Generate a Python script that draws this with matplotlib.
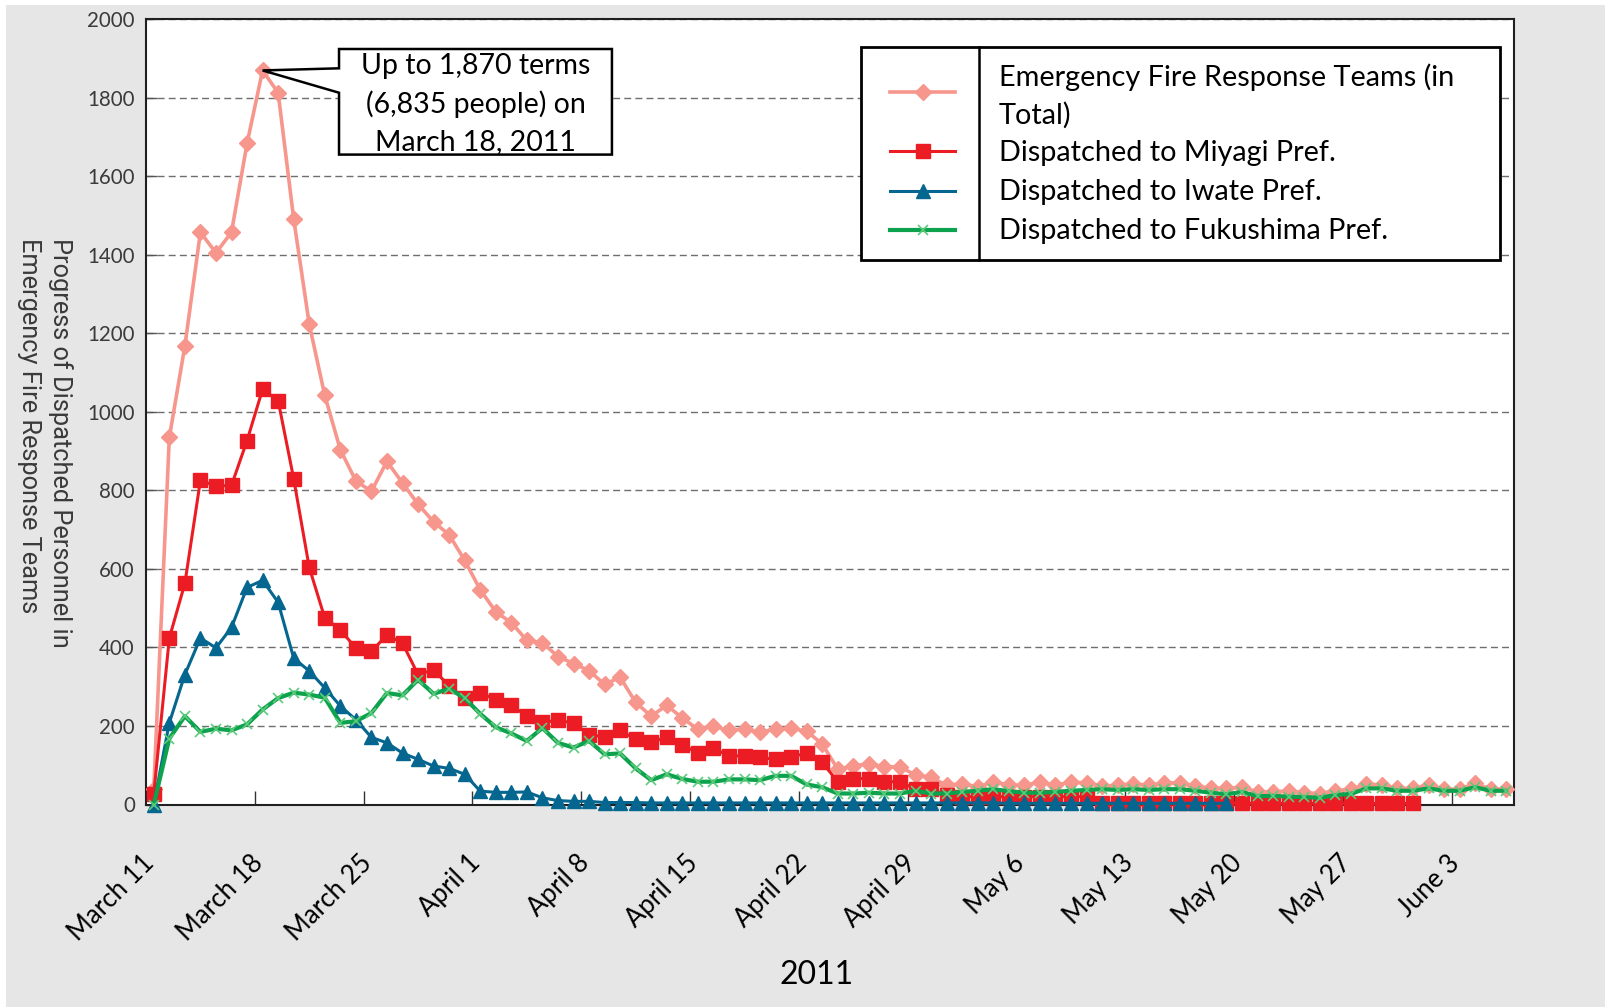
import matplotlib
matplotlib.use('Agg')
import matplotlib.pyplot as plt
from matplotlib import font_manager
from matplotlib.lines import Line2D
from matplotlib.patches import Polygon, Rectangle
import matplotlib.transforms as mtransforms
import numpy as np

plt.rcParams['font.family'] = ['Lato', 'DejaVu Sans']

# ---------------- data (daily, index 0 = March 11, 2011) ----------------
total = [40, 935, 1168, 1458, 1405, 1458, 1684, 1870, 1813, 1492,
         1224, 1042, 904, 824, 798, 874, 819, 765, 720, 687,
         622, 547, 491, 463, 418, 412, 377, 359, 341, 306,
         324, 260, 225, 253, 220, 192, 199, 189, 192, 184,
         192, 194, 187, 154, 90, 98, 104, 96, 96, 75,
         69, 49, 53, 45, 57, 50, 49, 57, 49, 57,
         55, 47, 49, 53, 49, 55, 55, 47, 41, 41,
         44, 32, 32, 35, 30, 28, 35, 39, 52, 50,
         41, 41, 50, 39, 39, 54, 39, 39]
miyagi = [27, 424, 563, 826, 811, 813, 927, 1058, 1029, 830,
          604, 475, 445, 398, 390, 432, 411, 331, 343, 302,
          271, 285, 267, 253, 225, 210, 214, 208, 178, 172,
          189, 166, 158, 172, 151, 132, 143, 124, 124, 120,
          115, 120, 132, 107, 58, 66, 66, 58, 58, 39,
          39, 24, 20, 20, 20, 20, 20, 20, 20, 20,
          20, 4, 4, 4, 4, 4, 3, 3, 3, 3,
          3, 3, 3, 3, 3, 3, 3, 3, 3, 3,
          3, 3]
iwate = [0, 208, 331, 424, 399, 451, 553, 571, 515, 373,
         340, 297, 251, 216, 171, 157, 131, 115, 98, 92,
         77, 34, 31, 31, 32, 17, 10, 8, 8, 5,
         5, 5, 4, 4, 4, 4, 4, 4, 4, 4,
         4, 4, 4, 4, 4, 4, 4, 4, 4, 4,
         4, 4, 4, 4, 4, 3, 3, 3, 3, 3,
         3, 3, 3, 3, 3, 3, 3, 3, 3, 3]
fukushima = [0, 168, 225, 185, 193, 189, 204, 242, 271, 285,
             280, 272, 208, 212, 233, 284, 278, 318, 282, 295,
             271, 231, 197, 181, 162, 195, 157, 145, 162, 128,
             130, 92, 62, 77, 65, 58, 58, 64, 64, 62,
             73, 73, 51, 44, 28, 28, 30, 28, 28, 35,
             28, 28, 32, 35, 39, 34, 30, 30, 32, 35,
             37, 39, 37, 39, 37, 39, 39, 35, 30, 26,
             32, 21, 22, 20, 19, 17, 24, 27, 41, 41,
             35, 35, 41, 35, 35, 44, 35, 35]
tick_days = [0, 7, 14, 21, 28, 35, 42, 49, 56, 63, 70, 77, 84]
tick_labels = ['March 11', 'March 18', 'March 25', 'April 1', 'April 8',
               'April 15', 'April 22', 'April 29', 'May 6', 'May 13',
               'May 20', 'May 27', 'June 3']
series_labels = ['Emergency Fire Response Teams (in\nTotal)',
                 'Dispatched to Miyagi Pref.',
                 'Dispatched to Iwate Pref.',
                 'Dispatched to Fukushima Pref.']
callout_text = 'Up to 1,870 terms\n(6,835 people) on\nMarch 18, 2011'

# ---------------- styles ----------------
C_TOTAL = '#f7968c'
C_MIYAGI = '#ec1c24'
C_IWATE = '#05668f'
C_FUKU = '#0da24d'
C_FUKU_MK = '#5ccb7c'

names = {f.name for f in font_manager.fontManager.ttflist}
if 'Liberation Sans Narrow' in names:
    yfam, ysize = ['Liberation Sans Narrow', 'DejaVu Sans'], 20.5
else:
    yfam, ysize = ['Roboto', 'DejaVu Sans'], 18.3

W, H = 1605, 1007
fig = plt.figure(figsize=(W / 100, H / 100), dpi=100)
fig.patch.set_facecolor('white')
fig.patches.append(Rectangle((6 / W, 0), 1, 1 - 5 / H, transform=fig.transFigure,
                             facecolor='#e6e6e6', edgecolor='none', zorder=-10))

ax = fig.add_axes([146 / W, 1 - 804.5 / H, 1368 / W, 785.1 / H])
ax.set_facecolor('white')
ax.set_xlim(-0.5, 87.5)
ax.set_ylim(0, 2000)

styles = [
    dict(color=C_TOTAL, lw=2.6, marker='D', ms=8.5, mfc=C_TOTAL, mec=C_TOTAL, zorder=3),
    dict(color=C_MIYAGI, lw=2.2, marker='s', ms=10, mfc=C_MIYAGI, mec=C_MIYAGI, zorder=4),
    dict(color=C_IWATE, lw=2.2, marker='^', ms=10, mfc=C_IWATE, mec=C_IWATE, zorder=5),
    dict(color=C_FUKU, lw=3.0, marker='x', ms=7, mec=C_FUKU_MK, mew=1.2, zorder=6),
]
for vals, st in zip([total, miyagi, iwate, fukushima], styles):
    ax.plot(np.arange(len(vals)), vals, clip_on=False, **st)

# grid / spines / ticks
ax.set_yticks(np.arange(0, 2001, 200))
ax.yaxis.grid(True, linestyle=(0, (5, 3)), color='#6e6e6e', lw=1.0)
ax.set_axisbelow(True)
for s in ax.spines.values():
    s.set_color('#202020')
    s.set_linewidth(1.5)
ax.tick_params(axis='y', direction='in', length=8, width=1, color='#555555',
               labelsize=14.8, labelcolor='#3a3a3a', pad=8)

ax.set_xticks(tick_days)
ax.set_xticklabels(tick_labels, rotation=45, ha='right', va='top',
                   rotation_mode='anchor', fontsize=18.5)
ax.tick_params(axis='x', which='major', length=0, pad=33, labelcolor='black')
ax.set_xticks(np.arange(6.5, 88, 7), minor=True)
ax.tick_params(axis='x', which='minor', direction='in', length=10, width=1, color='#333333')
offset = mtransforms.ScaledTranslation(-9 / 72, 0, fig.dpi_scale_trans)
for lab in ax.get_xticklabels():
    lab.set_transform(lab.get_transform() + offset)

ax.set_xlabel('2011', fontsize=23, color='black')
ax.xaxis.set_label_coords(0.49, (804.5 - 974.5) / 785.1)
ax.xaxis.label.set_va('center')

ax.set_ylabel('Progress of Dispatched Personnel in\nEmergency Fire Response Teams',
              rotation=270, family=yfam, fontsize=ysize, color='#3a3a3a',
              multialignment='left', linespacing=1.4)
ax.yaxis.set_label_coords((45 - 146) / 1368, 1 - (442.7 - 19.4) / 785.1)
ax.yaxis.label.set_va('center')
ax.yaxis.label.set_ha('center')

# ---------------- callout ----------------
peak_i = int(np.argmax(total))
tip = ax.transAxes.inverted().transform(ax.transData.transform((peak_i, total[peak_i])))
bl, br, bt, bb = 0.1411, 0.3406, 0.9623, 0.8278
w_hi, w_lo = 0.9377, 0.9066
poly = Polygon([(bl, bt), (br, bt), (br, bb), (bl, bb), (bl, w_lo), tuple(tip), (bl, w_hi)],
               closed=True, transform=ax.transAxes, facecolor='white', edgecolor='black',
               lw=1.8, zorder=8, joinstyle='miter')
ax.add_patch(poly)
ax.text((bl + br) / 2, (bt + bb) / 2 - 0.003, callout_text, transform=ax.transAxes,
        ha='center', va='center', fontsize=20.5, linespacing=1.52, zorder=9)

# ---------------- legend (framed box with divider) ----------------
lx0, lx1, ly0, ly1, ldiv = 0.523, 0.990, 0.693, 0.965, 0.609
ax.add_patch(Rectangle((lx0, ly0), lx1 - lx0, ly1 - ly0, transform=ax.transAxes,
                       facecolor='white', edgecolor='black', lw=2.0, zorder=10))
ax.add_line(Line2D([ldiv, ldiv], [ly0, ly1], transform=ax.transAxes, color='black',
                   lw=1.8, zorder=11))
handle_y = [0.9075, 0.833, 0.781, 0.7314]
text_y = [[0.9269, 0.8773], [0.8292], [0.7796], [0.7301]]
hx0, hx1 = 0.5439, 0.5914
for st, hy, lab, tys in zip(styles, handle_y, series_labels, text_y):
    st2 = dict(st)
    st2['zorder'] = 12
    ax.add_line(Line2D([hx0, (hx0 + hx1) / 2, hx1], [hy, hy, hy], transform=ax.transAxes,
                       markevery=[1], **st2))
    for line, ty in zip(lab.split('\n'), tys):
        ax.text(0.6235, ty, line, transform=ax.transAxes, ha='left', va='center',
                fontsize=20.8, zorder=12)

fig.savefig('out.png', dpi=100, facecolor=fig.get_facecolor())
